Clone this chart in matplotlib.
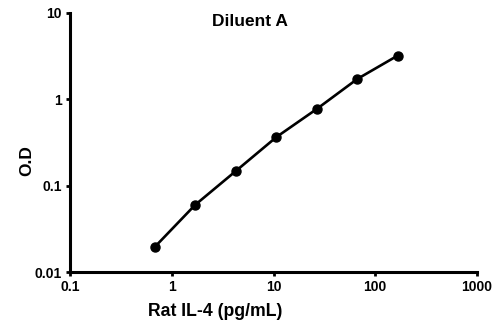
import matplotlib
matplotlib.use("Agg")
import matplotlib.pyplot as plt
from matplotlib.ticker import FixedLocator, NullLocator

plt.rcParams['font.family'] = ['Liberation Sans', 'DejaVu Sans']
plt.rcParams['font.weight'] = 'bold'

# standard curve data
conc = [0.68, 1.7, 4.27, 10.7, 26.7, 66.7, 166.7]
od = [0.0195, 0.06, 0.148, 0.366, 0.774, 1.72, 3.21]

x_ticks = [0.1, 1, 10, 100, 1000]
x_labels = ["0.1", "1", "10", "100", "1000"]
y_ticks = [0.01, 0.1, 1, 10]
y_labels = ["0.01", "0.1", "1", "10"]

fig = plt.figure(figsize=(5, 3.22), dpi=100)
ax = fig.add_axes([0.14, 0.155, 0.814, 0.805])

ax.plot(conc, od, color="black", lw=1.9, marker="o", ms=6.5)

ax.set_xscale("log")
ax.set_yscale("log")
ax.set_xlim(0.1, 1000)
ax.set_ylim(0.01, 10)

ax.xaxis.set_major_locator(FixedLocator(x_ticks))
ax.xaxis.set_minor_locator(NullLocator())
ax.yaxis.set_major_locator(FixedLocator(y_ticks))
ax.yaxis.set_minor_locator(NullLocator())
ax.set_xticklabels(x_labels)
ax.set_yticklabels(y_labels)

for s in ["top", "right"]:
    ax.spines[s].set_visible(False)
for s in ["left", "bottom"]:
    ax.spines[s].set_linewidth(2.2)
ax.tick_params(direction="out", length=3, width=2, labelsize=10, pad=3)

fig.text(215 / 500, 1 - 311 / 322, "Rat IL-4 (pg/mL)", fontsize=12.7,
         fontweight="bold", ha="center", va="center")
fig.text(27 / 500, 1 - 161 / 322, "O.D", fontsize=12.5, fontweight="bold",
         ha="center", va="center", rotation=90)

fig.text(250 / 500, 1 - 22 / 322, "Diluent A", fontsize=12.5,
         fontweight="bold", ha="center", va="center")

fig.savefig("out.png", dpi=100)
